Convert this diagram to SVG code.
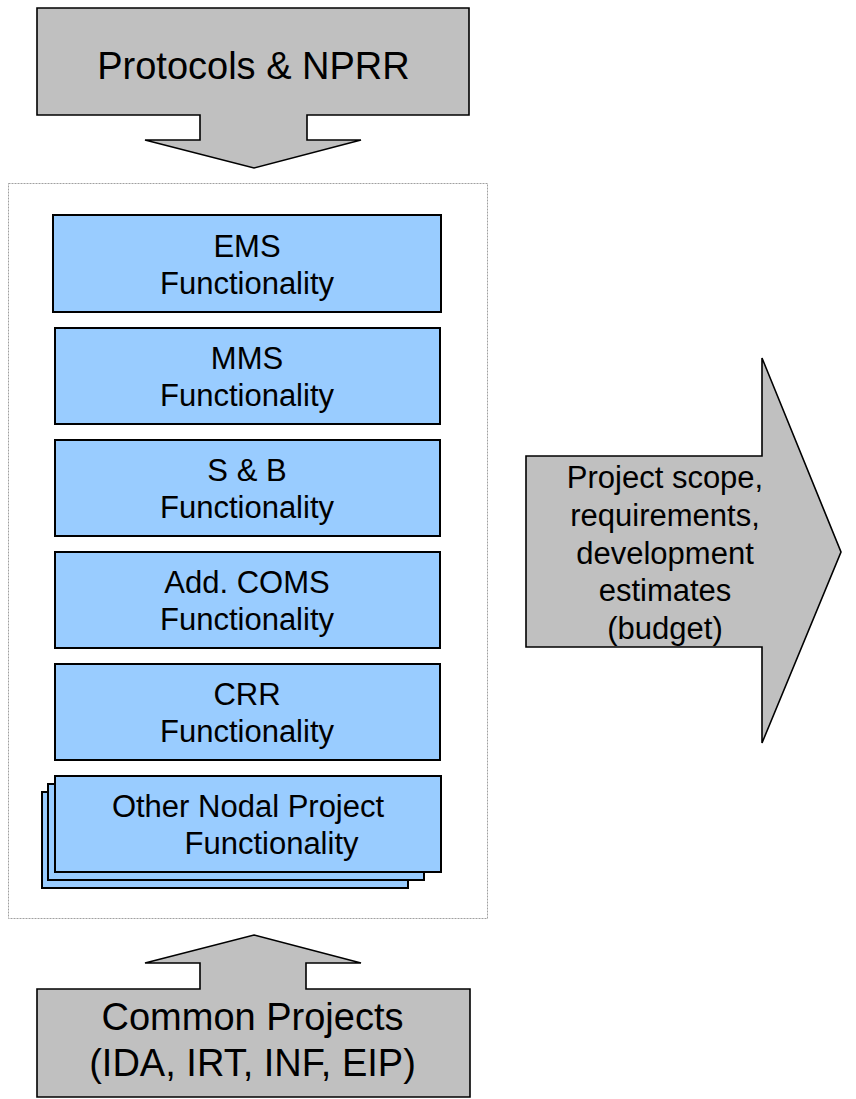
<svg xmlns="http://www.w3.org/2000/svg" width="856" height="1099" viewBox="0 0 856 1099">
  <style>
    .arrow { fill: #c0c0c0; stroke: #000; stroke-width: 1.6; stroke-linejoin: miter; }
    .box { fill: #99ccff; stroke: #000; stroke-width: 2; }
    .frame { fill: none; stroke: #a0a0a0; stroke-width: 1; stroke-dasharray: 2 1; }
    text { font-family: "Liberation Sans", Arial, sans-serif; fill: #000; text-anchor: middle; }
    .big { font-size: 38px; }
    .mid { font-size: 31px; }
  </style>
  <rect width="856" height="1099" fill="#fff"/>

  <!-- container frame -->
  <rect id="frame" class="frame" x="8.5" y="183.5" width="479" height="735"/>

  <g id="connectors">
    <!-- inputs and output arrows -->
    <g id="protocols">
      <path class="arrow" d="M37,8 H469 V115 H307 V140 H361 L254,168 L145,140 H200 V115 H37 Z"/>
      <text class="big" x="253.5" y="79">Protocols &amp; NPRR</text>
    </g>
    <g id="common">
      <path class="arrow" d="M254,935 L361,963 H306 V989 H470 V1097 H37 V989 H200 V963 H145 Z"/>
      <text class="big" x="252.5" y="1030">Common Projects</text>
      <text class="big" x="252.5" y="1076">(IDA, IRT, INF, EIP)</text>
    </g>
    <g id="output">
      <path class="arrow" d="M526,456 H762 V358 L841,552 L762,743 V647 H526 Z"/>
      <text class="mid" x="665" y="488">Project scope,</text>
      <text class="mid" x="665" y="526">requirements,</text>
      <text class="mid" x="665" y="564">development</text>
      <text class="mid" x="665" y="601">estimates</text>
      <text class="mid" x="665" y="639">(budget)</text>
    </g>
  </g>

  <g id="ems">
    <rect class="box" x="53" y="215" width="388" height="97"/>
    <text class="mid" x="247" y="257">EMS</text>
    <text class="mid" x="247" y="294">Functionality</text>
  </g>
  <g id="mms">
    <rect class="box" x="55" y="328" width="385" height="96"/>
    <text class="mid" x="247" y="369">MMS</text>
    <text class="mid" x="247" y="406">Functionality</text>
  </g>
  <g id="sb">
    <rect class="box" x="55" y="440" width="385" height="96"/>
    <text class="mid" x="247" y="481">S &amp; B</text>
    <text class="mid" x="247" y="518">Functionality</text>
  </g>
  <g id="coms">
    <rect class="box" x="55" y="552" width="385" height="96"/>
    <text class="mid" x="247" y="593">Add. COMS</text>
    <text class="mid" x="247" y="630">Functionality</text>
  </g>
  <g id="crr">
    <rect class="box" x="55" y="664" width="385" height="96"/>
    <text class="mid" x="247" y="705">CRR</text>
    <text class="mid" x="247" y="742">Functionality</text>
  </g>
  <g id="other">
    <rect class="box" x="42" y="792" width="366" height="96"/>
    <rect class="box" x="48" y="784" width="376" height="96"/>
    <rect class="box" x="55" y="776" width="386" height="96"/>
    <text class="mid" x="248" y="817">Other Nodal Project</text>
    <text class="mid" x="271.5" y="854">Functionality</text>
  </g>
</svg>
